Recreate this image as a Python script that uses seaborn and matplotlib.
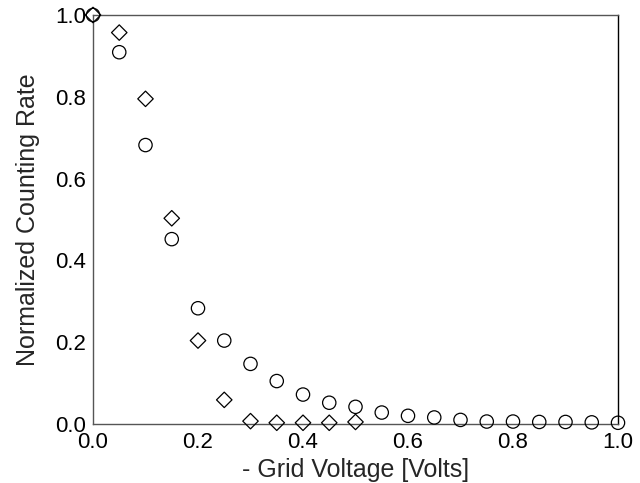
import matplotlib
matplotlib.use("Agg")
import matplotlib.pyplot as plt
import seaborn as sns
import pandas as pd
from matplotlib.ticker import MultipleLocator

# Data
circle_x = [0.0, 0.05, 0.10, 0.15, 0.20, 0.25, 0.30, 0.35, 0.40, 0.45, 0.50,
            0.55, 0.60, 0.65, 0.70, 0.75, 0.80, 0.85, 0.90, 0.95, 1.00]
circle_y = [1.0, 0.909, 0.682, 0.452, 0.283, 0.204, 0.147, 0.105, 0.072, 0.052, 0.042,
            0.028, 0.020, 0.016, 0.010, 0.006, 0.006, 0.005, 0.005, 0.004, 0.003]
diamond_x = [0.0, 0.05, 0.10, 0.15, 0.20, 0.25, 0.30, 0.35, 0.40, 0.45, 0.50]
diamond_y = [1.0, 0.957, 0.795, 0.503, 0.204, 0.059, 0.007, 0.003, 0.003, 0.003, 0.005]

x_label = "- Grid Voltage [Volts]"
y_label = "Normalized Counting Rate"

sns.set_style("white")
plt.rcParams["font.family"] = ["Liberation Sans", "DejaVu Sans"]

fig = plt.figure(figsize=(6.4, 4.83), dpi=100)
ax = fig.add_axes([93 / 640, 1 - 424 / 483, (618 - 93) / 640, (424 - 15) / 483])

df_c = pd.DataFrame({"x": circle_x, "y": circle_y})
df_d = pd.DataFrame({"x": diamond_x, "y": diamond_y})

sns.scatterplot(data=df_c, x="x", y="y", ax=ax, marker="o", s=92,
                facecolors="none", edgecolor="black", linewidth=0.9, clip_on=False, zorder=3)
sns.scatterplot(data=df_d, x="x", y="y", ax=ax, marker="D", s=62,
                facecolors="none", edgecolor="black", linewidth=0.9, clip_on=False, zorder=3)

ax.set_xlim(0, 1)
ax.set_ylim(0, 1)
ax.xaxis.set_major_locator(MultipleLocator(0.2))
ax.xaxis.set_minor_locator(MultipleLocator(0.1))
ax.yaxis.set_major_locator(MultipleLocator(0.2))
ax.yaxis.set_minor_locator(MultipleLocator(0.1))
ax.tick_params(which="major", direction="in", length=11, width=0.9, color="black",
               labelsize=16, labelcolor="black")
ax.tick_params(which="minor", direction="in", length=6, width=0.9, color="black")
ax.tick_params(axis="x", which="major", pad=6)
ax.tick_params(axis="y", which="major", pad=5)
ax.xaxis.set_major_formatter(matplotlib.ticker.FormatStrFormatter("%.1f"))
ax.yaxis.set_major_formatter(matplotlib.ticker.FormatStrFormatter("%.1f"))

for side in ["left", "top", "bottom"]:
    ax.spines[side].set_color("#555555")
    ax.spines[side].set_linewidth(1.0)
ax.spines["right"].set_color("black")
ax.spines["right"].set_linewidth(1.0)
for s in ax.spines.values():
    s.set_visible(True)

ax.set_xlabel(x_label, fontsize=18, labelpad=3)
ax.set_ylabel(y_label, fontsize=18, labelpad=11)

fig.savefig("out.png", dpi=100)
